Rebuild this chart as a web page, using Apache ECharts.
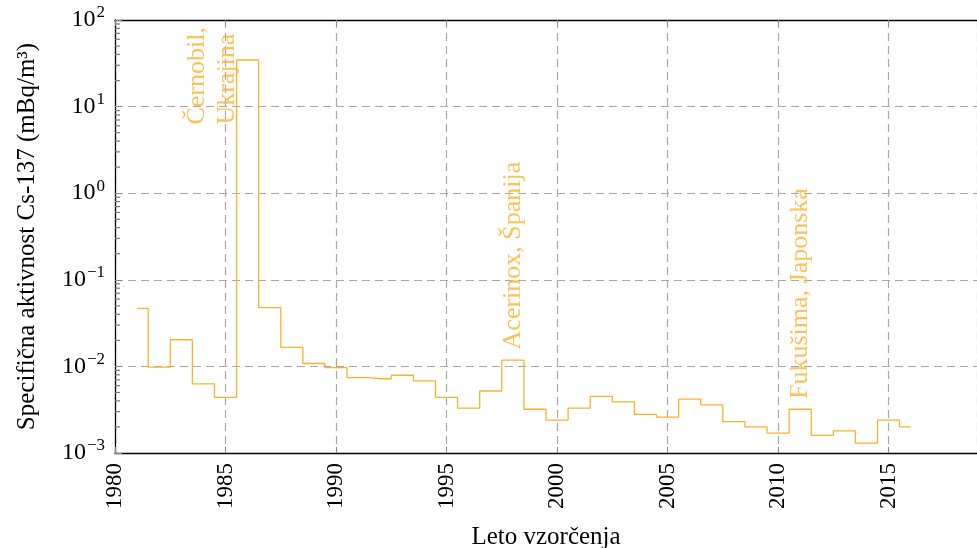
<!DOCTYPE html>
<html>
<head>
<meta charset="utf-8">
<script src="https://cdn.jsdelivr.net/npm/echarts@6/dist/echarts.min.js"></script>
<style>
  html, body { margin: 0; padding: 0; background: #fff; }
  #main { width: 977px; height: 548px; }
</style>
</head>
<body>
<div id="main"></div>
<script>
// leto vzorčenja
var years = [1981, 1982, 1983, 1984, 1985, 1986, 1987, 1988, 1989, 1990,
  1991, 1992, 1993, 1994, 1995, 1996, 1997, 1998, 1999, 2000,
  2001, 2002, 2003, 2004, 2005, 2006, 2007, 2008, 2009, 2010,
  2011, 2012, 2013, 2014, 2015, 2016];
// specifična aktivnost Cs-137 (mBq/m3)
var activity = [0.0467, 0.0098, 0.0203, 0.0063, 0.0044, 34.5, 0.0476, 0.0166, 0.0108, 0.0097,
  0.0074, 0.0072, 0.0079, 0.0068, 0.0044, 0.0033, 0.0052, 0.0118, 0.0032, 0.0024,
  0.0033, 0.0045, 0.0039, 0.0028, 0.0026, 0.0042, 0.0036, 0.0023, 0.0020, 0.0017,
  0.0032, 0.0016, 0.0018, 0.0013, 0.0024, 0.0020];
// dogodki
var eventNames = ["Černobil,\nUkrajina", "Acerinox, Španija", "Fukušima, Japonska"];
var eventYears = [1984.4, 1998, 2011];
var eventLevels = [6.2, 0.0157, 0.0042];

var xTicks = [1980, 1985, 1990, 1995, 2000, 2005, 2010, 2015];

var FONT = "Liberation Serif";
var ORANGE = "#fcb12a";
var GRID_GREY = "#a8a8a8";

var lineData = years.map(function (y, i) { return [y, activity[i]]; });
var eventData = eventNames.map(function (n, i) { return [eventYears[i], eventLevels[i], n]; });

// manjše oznake na log osi (2..9 v vsaki dekadi)
var minorTicks = [];
for (var e = -3; e < 2; e++) {
  for (var k = 2; k <= 9; k++) minorTicks.push([1980, k * Math.pow(10, e)]);
}

function powLabel(v) {
  var ex = Math.round(Math.log10(v));
  var s = String(ex).replace("-", "−");
  return "{b|10}{s|" + s + "}";
}

var myChart = echarts.init(document.getElementById("main"));
myChart.setOption({
  animation: false,
  grid: { left: 115, right: 0, top: 20, bottom: 95, outerBoundsMode: "none", containLabel: false },
  xAxis: [
    {
      type: "value",
      min: 1980,
      max: 2019,
      interval: 5,
      name: "Leto vzorčenja",
      nameLocation: "middle",
      nameGap: 72,
      nameTextStyle: { fontFamily: FONT, fontSize: 25, color: "#000" },
      axisLine: { onZero: false, lineStyle: { color: "#000", width: 1.3 } },
      axisTick: { inside: true, length: 6, lineStyle: { color: "#888" } },
      axisLabel: {
        rotate: 90,
        margin: 10,
        fontFamily: FONT,
        fontSize: 23,
        color: "#000",
        showMaxLabel: false,
        formatter: function (v) { return xTicks.indexOf(v) >= 0 ? String(v) : ""; }
      },
      splitLine: { lineStyle: { color: GRID_GREY, type: [8, 5], width: 1.2 } }
    },
    {
      type: "value",
      position: "top",
      min: 1980,
      max: 2019,
      interval: 5,
      axisLine: { onZero: false, lineStyle: { color: "#000", width: 1.3 } },
      axisTick: { inside: true, length: 6, lineStyle: { color: "#888" } },
      axisLabel: { show: false },
      splitLine: { show: false }
    }
  ],
  yAxis: {
    type: "log",
    logBase: 10,
    min: 0.001,
    max: 100,
    name: "Specifična aktivnost Cs-137 (mBq/m³)",
    nameLocation: "middle",
    nameGap: 75,
    nameTextStyle: { fontFamily: FONT, fontSize: 25, color: "#000" },
    axisLine: { onZero: false, lineStyle: { color: "#000", width: 1.3 } },
    axisTick: { inside: true, length: 7, lineStyle: { color: "#888" } },
    axisLabel: {
      margin: 10,
      formatter: powLabel,
      rich: {
        b: { fontFamily: FONT, fontSize: 24, color: "#000" },
        s: { fontFamily: FONT, fontSize: 17, color: "#000", padding: [0, 0, 14, 1] }
      }
    },
    splitLine: { lineStyle: { color: GRID_GREY, type: [8, 5], width: 1.2 } }
  },
  series: [
    {
      name: "Cs-137",
      type: "line",
      step: "middle",
      data: lineData,
      showSymbol: false,
      lineStyle: { color: ORANGE, width: 1.3 },
      z: 5
    },
    {
      name: "minor",
      type: "custom",
      coordinateSystem: "cartesian2d",
      data: minorTicks,
      silent: true,
      clip: false,
      renderItem: function (params, api) {
        var p = api.coord([api.value(0), api.value(1)]);
        return {
          type: "line",
          shape: { x1: p[0], y1: p[1], x2: p[0] + 5, y2: p[1] },
          style: { stroke: "#777", lineWidth: 1.2 }
        };
      },
      z: 3
    },
    {
      name: "dogodki",
      type: "scatter",
      data: eventData,
      symbolSize: 0,
      silent: true,
      label: {
        show: true,
        position: [0, 0],
        rotate: 90,
        align: "left",
        verticalAlign: "middle",
        fontFamily: FONT,
        fontSize: 26,
        lineHeight: 30,
        color: ORANGE,
        formatter: function (p) { return p.value[2]; }
      },
      z: 6
    }
  ]
});
</script>
</body>
</html>
